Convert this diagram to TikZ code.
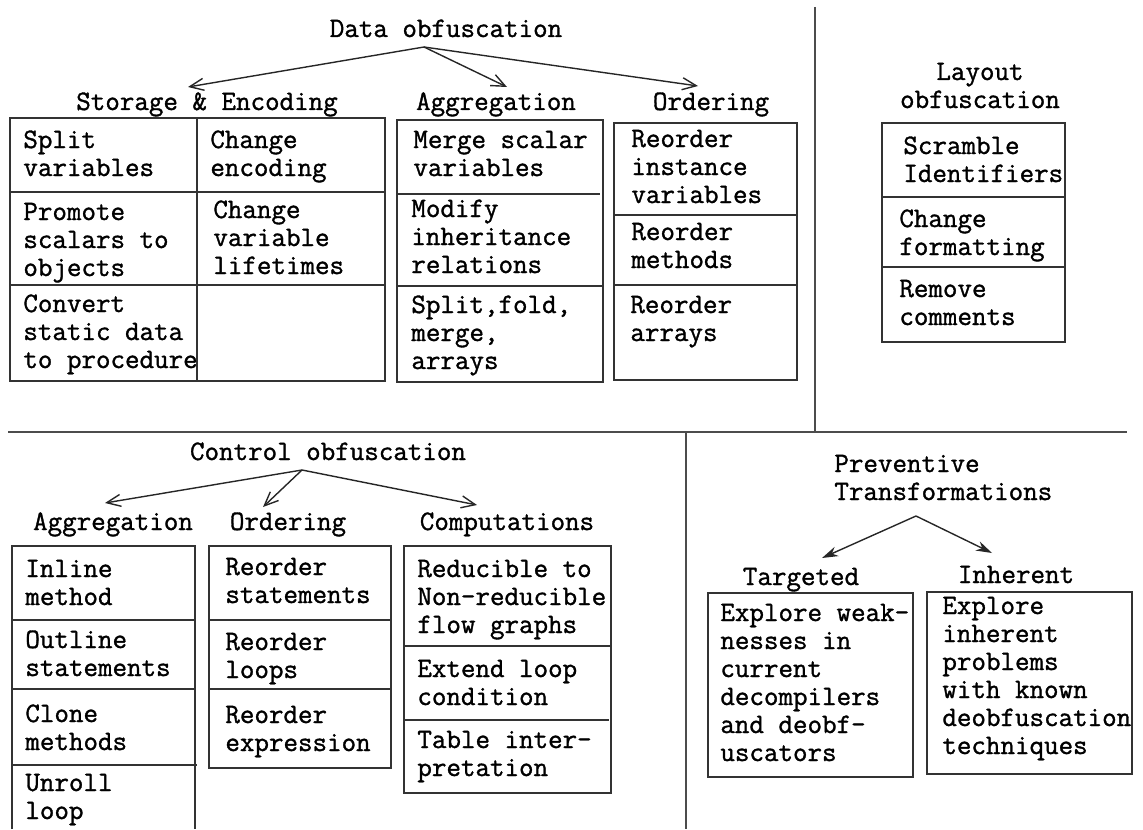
\documentclass[tikz,border=0pt]{standalone}
\usepackage{fontspec}
\usetikzlibrary{arrows.meta}
\newfontfamily\diagtt{Latin Modern Mono}[FakeBold=1.2]
\newcommand\diagfont{\fontsize{14.1pt}{14pt}\selectfont\diagtt}
% multi-line labels are placed by the baseline of their last line
\tikzset{
  lbl/.style={font=\diagfont, inner sep=0pt, anchor=base west, align=left},
  ttl/.style={font=\diagfont, inner sep=0pt, anchor=base, align=center},
  frame/.style={draw=black!80, line width=0.8pt},
  rule/.style={draw=black!70, line width=0.9pt},
  branch/.style={draw=black!85, line width=0.7pt, -{Straight Barb[length=7pt,width=6pt]}},
  branchfill/.style={draw=black!85, line width=0.7pt, -{Stealth[length=8pt,width=5pt]}}
}
\begin{document}
\begin{tikzpicture}[x=0.5pt, y=-0.5pt]
\useasboundingbox (0,0) rectangle (1143,829);

% ---- section dividers
\draw[rule] (815,7) -- (815,432);
\draw[rule] (8,432) -- (1127,432);
\draw[rule] (686,432) -- (686,829);

% ---- data obfuscation
\node[ttl] (dataT) at (446,37) {Data obfuscation};
\coordinate (dataA) at (424,47);
\node[ttl] (seT) at (207,110) {Storage \& Encoding};
\node[ttl] (agT) at (496,110) {Aggregation};
\node[ttl] (orT) at (711,110) {Ordering};
\coordinate (seTip) at (188,87);
\coordinate (agTip) at (507,87);
\coordinate (orTip) at (698,86);
\draw[branch] (dataA) -- (seTip);
\draw[branch] (dataA) -- (agTip);
\draw[branch] (dataA) -- (orTip);

% storage & encoding table
\draw[frame] (10,118) rectangle (385,381);
\draw[frame] (197,118) -- (197,381);
\draw[frame] (10,192) -- (385,192);
\draw[frame] (10,285) -- (385,285);
\node[lbl] (se1) at (23,176) {Split\\variables};
\node[lbl] (se2) at (210,176) {Change\\encoding};
\node[lbl] (se3) at (23,276) {Promote\\scalars to\\objects};
\node[lbl] (se4) at (213,274) {Change\\variable\\lifetimes};
\node[lbl] (se5) at (23,368) {Convert\\static data\\to procedure};

% aggregation table
\draw[frame] (397,120) rectangle (603,382);
\draw[frame] (397,194) -- (600,194);
\draw[frame] (397,286) -- (603,286);
\node[lbl] (ag1) at (413,176) {Merge scalar\\variables};
\node[lbl] (ag2) at (411,273) {Modify\\inheritance\\relations};
\node[lbl] (ag3) at (411,369) {Split,fold,\\merge,\\arrays};

% ordering table
\draw[frame] (614,123) rectangle (797,380);
\draw[frame] (614,215) -- (797,215);
\draw[frame] (614,285) -- (797,285);
\node[lbl] (or1) at (631,203) {Reorder\\instance\\variables};
\node[lbl] (or2) at (631,268) {Reorder\\methods};
\node[lbl] (or3) at (630,341) {Reorder\\arrays};

% ---- layout obfuscation
\node[ttl] (layT) at (980,108) {Layout\\obfuscation};
\draw[frame] (882,123) rectangle (1065,342);
\draw[frame] (882,197) -- (1065,197);
\draw[frame] (882,267) -- (1065,267);
\node[lbl] (la1) at (903,182) {Scramble\\Identifiers};
\node[lbl] (la2) at (899,255) {Change\\formatting};
\node[lbl] (la3) at (899,325) {Remove\\comments};

% ---- control obfuscation
\node[ttl] (ctlT) at (328,460) {Control obfuscation};
\coordinate (ctlA) at (302,470);
\node[ttl] (cagT) at (113,530) {Aggregation};
\node[ttl] (corT) at (288,530) {Ordering};
\node[ttl] (ccoT) at (507,530) {Computations};
\coordinate (cagTip) at (105,503);
\coordinate (corTip) at (263,507);
\coordinate (ccoTip) at (477,505);
\draw[branch] (ctlA) -- (cagTip);
\draw[branch] (ctlA) -- (corTip);
\draw[branch] (ctlA) -- (ccoTip);

% aggregation table (runs past the lower edge)
\draw[frame] (12,829) -- (12,546) -- (195,546) -- (195,829);
\draw[frame] (12,620) -- (195,620);
\draw[frame] (12,689) -- (195,689);
\draw[frame] (12,765) -- (197,765);
\node[lbl] (ca1) at (25,605) {Inline\\method};
\node[lbl] (ca2) at (25,676) {Outline\\statements};
\node[lbl] (ca3) at (25,750) {Clone\\methods};
\node[lbl] (ca4) at (25,819) {Unroll\\loop};

% ordering table
\draw[frame] (209,546) rectangle (391,768);
\draw[frame] (209,620) -- (391,620);
\draw[frame] (209,689) -- (391,689);
\node[lbl] (co1) at (225,603) {Reorder\\statements};
\node[lbl] (co2) at (225,678) {Reorder\\loops};
\node[lbl] (co3) at (225,751) {Reorder\\expression};

% computations table
\draw[frame] (404,546) rectangle (611,793);
\draw[frame] (404,646) -- (611,646);
\draw[frame] (404,720) -- (609,720);
\node[lbl] (cc1) at (417,633) {Reducible to\\Non-reducible\\flow graphs};
\node[lbl] (cc2) at (417,705) {Extend loop\\condition};
\node[lbl] (cc3) at (417,776) {Table inter-\\pretation};

% ---- preventive transformations
\node[lbl] (prvT) at (834,500) {Preventive\\Transformations};
\coordinate (prvA) at (916,516);
\node[ttl] (tgT) at (801,585) {Targeted};
\node[ttl] (inT) at (1016,583) {Inherent};
\coordinate (tgTip) at (822,558);
\coordinate (inTip) at (992,553);
\draw[branchfill] (prvA) -- (tgTip);
\draw[branchfill] (prvA) -- (inTip);

\draw[frame] (708,593) rectangle (913,777);
\draw[frame] (927,592) rectangle (1132,774);
\node[lbl] (tg1) at (720,761) {Explore weak-\\nesses in\\current\\decompilers\\and deobf-\\uscators};
\node[lbl] (in1) at (942,754) {Explore\\inherent\\problems\\with known\\deobfuscation\\techniques};
\end{tikzpicture}
\end{document}
